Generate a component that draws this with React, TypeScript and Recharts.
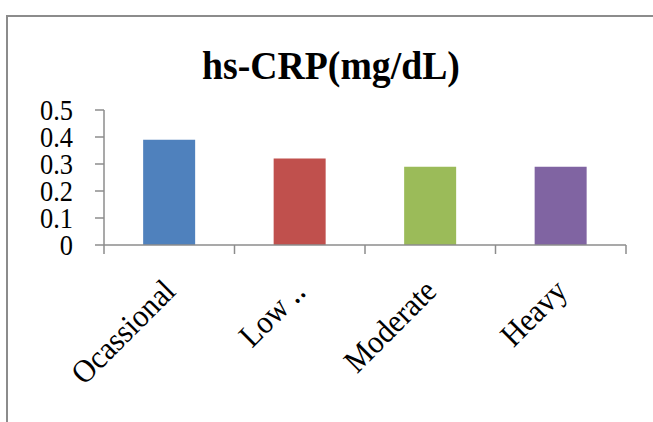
import React from 'react';
import { BarChart, Bar, XAxis, YAxis, Cell } from 'recharts';

const categories = ['Ocassional', 'Low ‥', 'Moderate', 'Heavy'];
const values = [0.39, 0.32, 0.29, 0.29];
const yTicks = [0, 0.1, 0.2, 0.3, 0.4, 0.5];
const COLORS = ['#4F81BD', '#C0504D', '#9BBB59', '#8064A2'];

const data = categories.map((name, i) => ({ name, value: values[i] }));

const FONT = '"Liberation Serif", "Times New Roman", serif';
const AXIS = '#8c8c8c';
const BAND = 130.5;

function XTick(props: any) {
  const { x, y, payload, index } = props;
  const last = index === categories.length - 1;
  const ax = x + 8;
  const ay = y + 40;
  return (
    <g>
      <line x1={x - BAND / 2} y1={y - 8} x2={x - BAND / 2} y2={y + 1} stroke={AXIS} strokeWidth={1.5} />
      {last && <line x1={x + BAND / 2} y1={y - 8} x2={x + BAND / 2} y2={y + 1} stroke={AXIS} strokeWidth={1.5} />}
      <text
        x={0}
        y={0}
        transform={`translate(${ax}, ${ay}) rotate(-45) scale(1, 1.08)`}
        textAnchor="end"
        fontFamily={FONT}
        fontSize={30}
        fill="#000"
      >
        {payload.value}
      </text>
    </g>
  );
}

function YTick(props: any) {
  const { x, y, payload } = props;
  return (
    <text
      x={0}
      y={0}
      transform={`translate(${x}, ${y + 10}) scale(0.88, 1)`}
      textAnchor="end"
      fontFamily={FONT}
      fontSize={30}
      fill="#000"
    >
      {payload.value}
    </text>
  );
}

export default function App() {
  return (
    <div style={{ position: 'absolute', left: 0, top: 0, width: 653, height: 422, overflow: 'hidden', background: '#fff' }}>
      <div style={{ position: 'absolute', left: 6, top: 15, width: 800, height: 600, border: `2px solid ${AXIS}` }} />
      <div
        style={{
          position: 'absolute', left: 0, width: 662, top: 42, textAlign: 'center',
          fontFamily: FONT, fontWeight: 'bold', fontSize: 41, lineHeight: '46px', color: '#000',
          transform: 'scaleX(0.92)',
        }}
      >
        hs-CRP(mg/dL)
      </div>
      <div style={{ position: 'absolute', left: 0, top: 0 }}>
        <BarChart width={653} height={422} data={data} margin={{ top: 110, right: 27, bottom: 0, left: 0 }} barCategoryGap="30%">
          <YAxis
            width={104}
            domain={[0, 0.5]}
            ticks={yTicks}
            interval={0}
            tickSize={9}
            tickMargin={22}
            axisLine={{ stroke: AXIS, strokeWidth: 1.5 }}
            tickLine={{ stroke: AXIS, strokeWidth: 1.5 }}
            tick={<YTick />}
          />
          <XAxis
            dataKey="name"
            height={177}
            interval={0}
            tickLine={false}
            axisLine={{ stroke: AXIS, strokeWidth: 1.5 }}
            tick={<XTick />}
          />
          <Bar dataKey="value" isAnimationActive={false}>
            {data.map((_, i) => <Cell key={i} fill={COLORS[i % COLORS.length]} />)}
          </Bar>
        </BarChart>
      </div>
    </div>
  );
}
